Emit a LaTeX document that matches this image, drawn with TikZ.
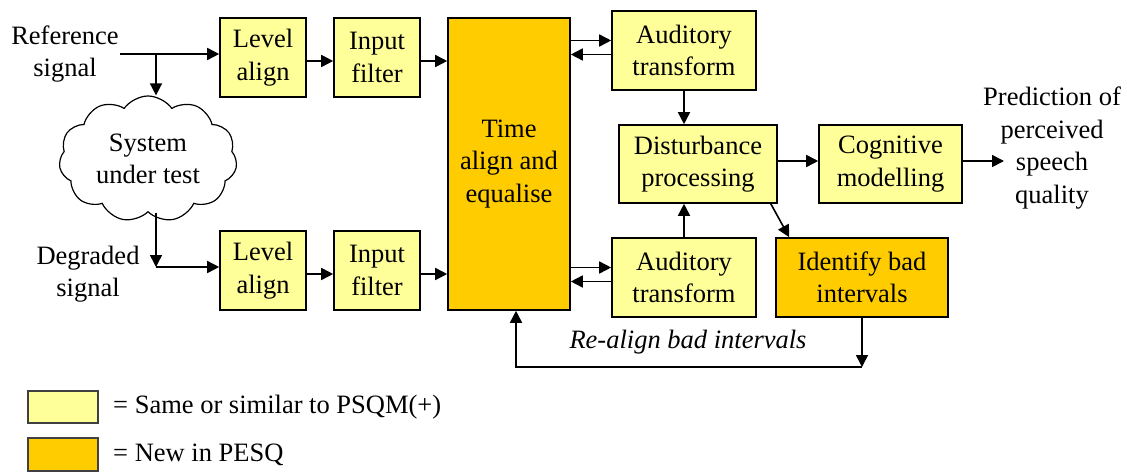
\documentclass[tikz,border=0pt]{standalone}
\usepackage{fontspec}
\setmainfont{Liberation Serif}
\usepackage{tikz}
\usetikzlibrary{arrows.meta,positioning,shapes.symbols}
\definecolor{psqmYellow}{RGB}{255,255,153}
\definecolor{pesqOrange}{RGB}{255,204,0}
\definecolor{legendGray}{RGB}{64,64,64}

\begin{document}
\begin{tikzpicture}[x=1pt,y=-1pt,
    font=\rmfamily\fontsize{26.5}{32.5}\selectfont,
    block/.style={draw, line width=1.6pt, align=center, inner sep=0pt},
    oldblock/.style={block, fill=psqmYellow},
    newblock/.style={block, fill=pesqOrange},
    arr/.style={line width=1.6pt, -{Triangle[length=12pt,width=12pt]}},
    lbl/.style={align=center, inner sep=0pt}]
    \useasboundingbox (0,0) rectangle (1127,476);

    % input signals and system under test
    \node[lbl] (reftxt) at (65,54) {Reference\\signal};
    \node[draw, line width=1.2pt, cloud, cloud puffs=11, cloud puff arc=110, aspect=1.45,
          minimum width=178pt, minimum height=126pt, align=center, inner sep=0pt]
          (sut) at (148,159) {System\\under test};
    \node[lbl] (degtxt) at (88,274) {Degraded\\signal};
    \coordinate (refstart) at (120,54);
    \coordinate (refbr) at (156,54);
    \coordinate (degbr) at (156,267);

    % level align and input filter
    \node[oldblock, minimum width=86pt, minimum height=79pt] (lvl1) at (263,57.5) {Level\\align};
    \node[oldblock, minimum width=86pt, minimum height=79pt] (filt1) at (377,57.5) {Input\\filter};
    \node[oldblock, minimum width=86pt, minimum height=79pt] (lvl2) at (263,270.5) {Level\\align};
    \node[oldblock, minimum width=86pt, minimum height=79pt] (filt2) at (377,270.5) {Input\\filter};

    % time alignment
    \node[newblock, minimum width=122pt, minimum height=292pt] (time) at (509,164) {Time\\align and\\equalise};

    % model core
    \node[oldblock, minimum width=144pt, minimum height=79pt] (aud1) at (684,50.5) {Auditory\\transform};
    \node[oldblock, minimum width=144pt, minimum height=79pt] (aud2) at (684,277.5) {Auditory\\transform};
    \node[oldblock, minimum width=158pt, minimum height=78pt] (dist) at (698,164) {Disturbance\\processing};
    \node[oldblock, minimum width=143pt, minimum height=78pt] (cog) at (890.5,164) {Cognitive\\modelling};
    \node[newblock, minimum width=172pt, minimum height=79pt] (bad) at (862,277.5) {Identify bad\\intervals};
    \node[lbl] (pred) at (1052,148) {Prediction of\\perceived\\speech\\quality};
    \coordinate (out) at (1004,164);

    % signal paths
    \draw[line width=1.6pt] (refstart) -- (refbr);
    \draw[arr] (refbr) -- (lvl1.west |- refbr);
    \draw[arr] (refbr) -- (refbr |- sut.north);
    \draw[arr] (sut.south -| degbr) -- (degbr);
    \draw[arr] (degbr) -- (lvl2.west |- degbr);
    \draw[arr] ([yshift=-3.5pt]lvl1.east) -- ([yshift=-3.5pt]filt1.west);
    \draw[arr] ([yshift=-3.5pt]filt1.east) -- ([yshift=-3.5pt]filt1.east -| time.west);
    \draw[arr] ([yshift=-3.5pt]lvl2.east) -- ([yshift=-3.5pt]filt2.west);
    \draw[arr] ([yshift=-3.5pt]filt2.east) -- ([yshift=-3.5pt]filt2.east -| time.west);

    % to and from the auditory transforms
    \draw[arr] ([yshift=10pt]aud1.west -| time.east) -- ([yshift=10pt]aud1.west);
    \draw[arr] ([yshift=-4pt]aud1.west) -- ([yshift=-4pt]aud1.west -| time.east);
    \draw[arr] ([yshift=10pt]aud2.west -| time.east) -- ([yshift=10pt]aud2.west);
    \draw[arr] ([yshift=-4pt]aud2.west) -- ([yshift=-4pt]aud2.west -| time.east);
    \draw[arr] (aud1.south) -- (aud1.south |- dist.north);
    \draw[arr] (aud2.north) -- (aud2.north |- dist.south);
    \draw[arr] ([yshift=3pt]dist.east) -- ([yshift=3pt]cog.west);
    \draw[arr] ([yshift=3pt]cog.east) -- ([yshift=3pt]out);
    \draw[arr] ([xshift=-7pt]dist.south east) -- ([xshift=14pt]bad.north west);

    % re-alignment loop
    \coordinate (fbR) at (862,367);
    \coordinate (fbL) at (516,367);
    \draw[arr] (bad.south) -- (fbR);
    \draw[arr] (fbR) -- (fbL) -- (fbL |- time.south);
    \node[lbl, font=\rmfamily\itshape\fontsize{26.5}{32.5}\selectfont] (realign) at (688,342) {Re-align bad intervals};

    % legend
    \node[draw=legendGray, line width=1.6pt, fill=psqmYellow, minimum width=70pt, minimum height=32pt, inner sep=0pt] (keyold) at (63,407) {};
    \node[draw=legendGray, line width=1.6pt, fill=pesqOrange, minimum width=70pt, minimum height=33pt, inner sep=0pt] (keynew) at (63,454.5) {};
    \node[lbl, anchor=west] (keyoldtxt) at (113,407) {= Same or similar to PSQM(+)};
    \node[lbl, anchor=west] (keynewtxt) at (113,455) {= New in PESQ};
\end{tikzpicture}
\end{document}
